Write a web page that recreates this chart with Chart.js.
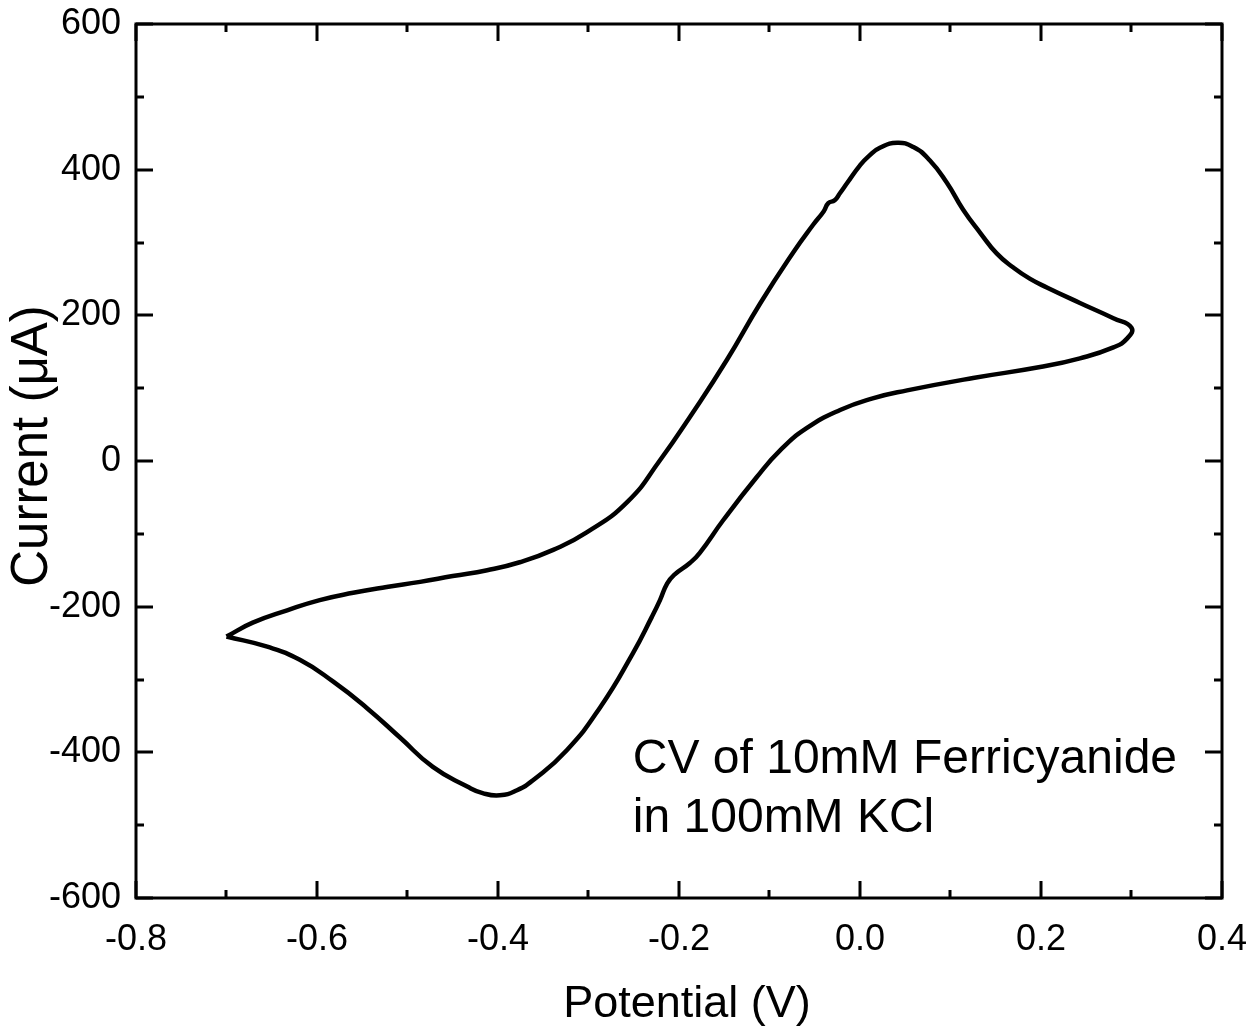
<!DOCTYPE html>
<html>
<head>
<meta charset="utf-8">
<title>CV of Ferricyanide</title>
<script src="https://cdn.jsdelivr.net/npm/chart.js@4"></script>
<style>
  html, body { margin: 0; padding: 0; background: #fff; }
  #cv { display: block; }
</style>
</head>
<body>
<canvas id="cv" width="1254" height="1028"></canvas>
<script>
// Cyclic voltammogram (V vs uA)
// forward scan -0.7 -> 0.3 V, then back to -0.7 V
const potential = [
  -0.700, -0.671, -0.633, -0.597, -0.560, -0.523, -0.486, -0.450, -0.412, -0.376,
  -0.339, -0.302, -0.257, -0.221, -0.185, -0.147, -0.110, -0.074, -0.052, -0.040,
  -0.035, -0.028, -0.022, -0.014, 0.000, 0.010, 0.022, 0.041, 0.059, 0.077,
  0.096, 0.114, 0.133, 0.151, 0.169, 0.188, 0.207, 0.243, 0.280, 0.300,
  0.295, 0.280, 0.243, 0.199, 0.125, 0.052, 0.014, -0.022, -0.059, -0.088,
  -0.114, -0.151, -0.177, -0.188, -0.205, -0.213, -0.221, -0.230, -0.251, -0.287,
  -0.324, -0.361, -0.379, -0.398, -0.417, -0.434, -0.472, -0.508, -0.545, -0.582,
  -0.619, -0.655, -0.700
];
const current = [
  -241, -222, -205, -191, -181, -173, -166, -158, -150, -139,
  -122, -98, -56, 1, 66, 139, 217, 286, 324, 343,
  354, 358, 368, 382, 406, 419, 430, 437, 431, 413,
  382, 345, 313, 285, 266, 250, 238, 217, 196, 183,
  168, 156, 141, 129, 114, 97, 86, 70, 45, 15,
  -22, -81, -126, -140, -156, -168, -191, -214, -264, -338,
  -397, -438, -452, -459, -456, -447, -420, -380, -339, -303,
  -273, -255, -241
];

const xTickStep = 0.2;
const yTickStep = 200;
const xTitle = 'Potential (V)';
const yTitle = 'Current (μA)';
const noteLines = ['CV of 10mM Ferricyanide', 'in 100mM KCl'];

const FONT = "Arial, 'Liberation Sans', Helvetica, sans-serif";

const points = potential.map((v, i) => ({ x: v, y: current[i] }));

// drop the automatic label overhang so the plot box sits where padding says
const noOverhang = s => {
  s.paddingTop = 0; s.paddingBottom = 0;
  s.paddingLeft = 0; s.paddingRight = 0;
};

// box around the plot with inward major + minor ticks, plus the texts
const frameTicks = {
  id: 'frameTicks',
  afterDraw(chart) {
    const { ctx, chartArea: a, scales } = chart;
    ctx.save();
    ctx.strokeStyle = '#000';
    ctx.lineWidth = 3;
    ctx.lineCap = 'square';
    ctx.strokeRect(a.left, a.top, a.right - a.left, a.bottom - a.top);
    ctx.lineCap = 'butt';

    const xs = scales.x, ys = scales.y;
    const xv = [], yv = [];
    for (let v = xs.min; v <= xs.max + 1e-9; v += xTickStep / 2) xv.push(v);
    for (let v = ys.min; v <= ys.max + 1e-9; v += yTickStep / 2) yv.push(v);

    ctx.beginPath();
    xv.forEach((v, i) => {
      const len = i % 2 === 0 ? 17 : 8;
      const px = Math.round(xs.getPixelForValue(v));
      ctx.moveTo(px, a.bottom); ctx.lineTo(px, a.bottom - len);
      ctx.moveTo(px, a.top); ctx.lineTo(px, a.top + len);
    });
    yv.forEach((v, i) => {
      const len = i % 2 === 0 ? 17 : 8;
      const py = Math.round(ys.getPixelForValue(v));
      ctx.moveTo(a.left, py); ctx.lineTo(a.left + len, py);
      ctx.moveTo(a.right, py); ctx.lineTo(a.right - len, py);
    });
    ctx.stroke();

    ctx.fillStyle = '#000';
    ctx.textBaseline = 'alphabetic';

    // x axis title
    ctx.font = '45px ' + FONT;
    ctx.textAlign = 'center';
    ctx.fillText(xTitle, 687, 1017);

    // y axis title, rotated
    ctx.save();
    ctx.font = '51px ' + FONT;
    ctx.textAlign = 'center';
    ctx.translate(47, 446);
    ctx.rotate(-Math.PI / 2);
    ctx.fillText(yTitle, 0, 0);
    ctx.restore();

    // text note inside the plot
    ctx.font = '48px ' + FONT;
    ctx.textAlign = 'left';
    const nx = xs.getPixelForValue(-0.251);
    ctx.fillText(noteLines[0], nx, ys.getPixelForValue(-428));
    ctx.fillText(noteLines[1], nx, ys.getPixelForValue(-509));
    ctx.restore();
  }
};

new Chart(document.getElementById('cv').getContext('2d'), {
  type: 'scatter',
  data: {
    datasets: [{
      data: points,
      showLine: true,
      borderColor: '#000',
      borderWidth: 4.5,
      pointRadius: 0,
      tension: 0.5,
      fill: false
    }]
  },
  options: {
    responsive: false,
    animation: false,
    layout: { padding: { top: 24, right: 32, left: 0, bottom: 0 } },
    plugins: {
      legend: { display: false },
      tooltip: { enabled: false }
    },
    scales: {
      x: {
        type: 'linear',
        min: -0.8,
        max: 0.4,
        border: { display: false },
        grid: { display: false, drawTicks: false },
        ticks: {
          stepSize: xTickStep,
          padding: 20,
          color: '#000',
          font: { family: FONT, size: 36 },
          callback: v => Number(v).toFixed(1)
        },
        title: { display: false },
        afterFit: s => { s.height = 130; noOverhang(s); }
      },
      y: {
        type: 'linear',
        min: -600,
        max: 600,
        border: { display: false },
        grid: { display: false, drawTicks: false },
        ticks: {
          stepSize: yTickStep,
          padding: 15,
          color: '#000',
          font: { family: FONT, size: 36 }
        },
        title: { display: false },
        afterFit: s => { s.width = 136; noOverhang(s); }
      }
    }
  },
  plugins: [frameTicks]
});
</script>
</body>
</html>
